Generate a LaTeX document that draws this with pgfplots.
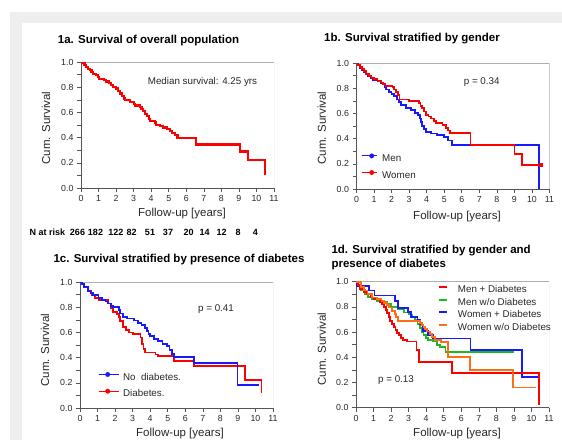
\documentclass[border=0pt]{standalone}
\usepackage{fontspec}
\setmainfont{Liberation Sans}
\usepackage{pgfplots}
\pgfplotsset{compat=1.18}
\definecolor{kmred}{RGB}{255,0,0}
\definecolor{kmblue}{RGB}{25,25,255}
\definecolor{kmgreen}{RGB}{30,185,30}
\definecolor{kmorange}{RGB}{255,110,20}
\definecolor{bandgray}{RGB}{238,238,238}
\definecolor{axdark}{RGB}{85,85,85}
\definecolor{axlight}{RGB}{175,175,175}
\definecolor{txt}{RGB}{40,40,40}
\newcommand{\ttl}{\fontsize{11.5}{13}\selectfont\bfseries}
\newcommand{\lbl}{\fontsize{11.5}{13}\selectfont}
\newcommand{\ann}{\fontsize{9.8}{11}\selectfont}
\pgfplotsset{
 km/.style={
  scale only axis, width=193pt, height=126pt,
  xmin=0, xmax=11, ymin=0, ymax=1,
  xtick={0,1,...,11}, ytick={0,0.2,0.4,0.6,0.8,1.0},
  minor ytick={0.1,0.3,0.5,0.7,0.9},
  axis x line*=bottom, axis y line*=left,
  axis line style={axdark, line width=0.6pt},
  tick align=outside, major tick length=4pt, minor tick length=4pt,
  tick style={axdark, line width=0.6pt},
  /pgf/number format/assume math mode=true,
  tick label style={font=\fontsize{8.8}{10}\selectfont, text=txt},
  yticklabel style={/pgf/number format/.cd, fixed, fixed zerofill, precision=1, assume math mode=true},
  legend cell align=left,
 },
}
\begin{document}
\begin{tikzpicture}[x=1pt,y=1pt]
\useasboundingbox (0,0) rectangle (562,440);
\fill[white] (0,0) rectangle (562,440);
\fill[bandgray] (10,0) rectangle (22,428);
\fill[bandgray] (10,417) rectangle (562,428);

% ---------- 1a ----------
\begin{axis}[km, at={(81pt,252pt)}, anchor=south west]
\draw[axlight, line width=0.6pt] (rel axis cs:0,1) -- (rel axis cs:1,1) -- (rel axis cs:1,0);
\addplot[const plot, kmred, line width=2.1pt] coordinates {
(0,1)(0.1,0.99)(0.2,0.975)(0.3,0.96)(0.4,0.948)(0.5,0.935)(0.6,0.92)(0.7,0.905)(0.85,0.895)(0.95,0.88)(1.05,0.868)(1.3,0.858)(1.45,0.845)(1.6,0.83)(1.7,0.815)(1.8,0.80)(2.0,0.79)(2.1,0.77)(2.2,0.75)(2.35,0.73)(2.45,0.71)(2.5,0.695)(2.8,0.685)(3.0,0.665)(3.1,0.655)(3.35,0.645)(3.45,0.63)(3.55,0.61)(3.65,0.59)(3.75,0.57)(3.85,0.55)(3.95,0.53)(4.2,0.52)(4.3,0.50)(4.5,0.49)(4.65,0.48)(4.9,0.47)(5.05,0.455)(5.2,0.44)(5.35,0.42)(5.5,0.40)(6.55,0.345)(9.05,0.29)(9.5,0.22)(10.5,0.10)};
\end{axis}

% ---------- 1b ----------
\begin{axis}[km, at={(356.5pt,251pt)}, anchor=south west,
  legend style={at={(axis description cs:0.008,0.322)}, anchor=north west, draw=none, fill=none,
    font=\ann, text=txt, row sep=0pt, column sep=0pt,
    nodes={inner xsep=5pt, inner ysep=3.7pt, text height=7.2pt, text depth=2pt}},
  legend image code/.code={\draw[#1, line width=0.9pt] (0pt,3pt) -- (15pt,3pt); \fill[#1] (10pt,3pt) circle (2.2pt);}]
\draw[axlight, line width=0.6pt] (rel axis cs:0,1) -- (rel axis cs:1,1) -- (rel axis cs:1,0);
\addplot[const plot, kmblue, line width=1.8pt, forget plot] coordinates {
(0,1)(0.1,0.98)(0.2,0.96)(0.3,0.94)(0.4,0.925)(0.55,0.91)(0.65,0.895)(0.8,0.88)(0.95,0.868)(1.2,0.855)(1.4,0.84)(1.5,0.83)(1.6,0.81)(1.7,0.79)(1.85,0.77)(2.0,0.755)(2.15,0.735)(2.3,0.71)(2.4,0.69)(2.55,0.665)(2.8,0.645)(3.1,0.625)(3.35,0.605)(3.5,0.585)(3.6,0.56)(3.68,0.53)(3.75,0.50)(3.85,0.475)(3.95,0.455)(4.25,0.44)(4.6,0.43)(5.0,0.41)(5.2,0.385)(5.45,0.35)(10.4,0.0)};
\addplot[const plot, kmred, line width=1.8pt, forget plot] coordinates {
(0,1)(0.1,0.985)(0.2,0.97)(0.3,0.955)(0.45,0.935)(0.55,0.915)(0.7,0.895)(0.85,0.88)(1.0,0.87)(1.2,0.86)(1.4,0.845)(1.5,0.835)(1.65,0.82)(2.05,0.81)(2.15,0.79)(2.25,0.77)(2.35,0.745)(2.45,0.71)(3.0,0.70)(3.55,0.685)(3.65,0.66)(3.72,0.64)(3.85,0.615)(3.95,0.59)(4.1,0.575)(4.25,0.56)(4.4,0.54)(4.55,0.525)(4.9,0.505)(5.1,0.485)(5.2,0.465)(5.35,0.445)(6.5,0.35)(9.0,0.28)(9.42,0.19)(10.5,0.19)};
\addplot[only marks, mark=square*, mark size=1.4pt, kmred, forget plot] coordinates {(10.5,0.19)};
\addlegendimage{kmblue}
\addlegendentry{Men}
\addlegendimage{kmred}
\addlegendentry{Women}
\end{axis}

% ---------- 1c ----------
\begin{axis}[km, at={(80pt,32pt)}, anchor=south west,
  legend style={at={(axis description cs:0.078,0.326)}, anchor=north west, draw=none, fill=none,
    font=\ann, text=txt, row sep=0pt, column sep=0pt,
    nodes={inner xsep=4pt, inner ysep=3.75pt, text height=7.2pt, text depth=2pt}},
  legend image code/.code={\draw[#1, line width=0.9pt] (0pt,3pt) -- (20pt,3pt); \fill[#1] (9pt,3pt) circle (2.2pt);}]
\draw[axlight, line width=0.6pt] (rel axis cs:0,1) -- (rel axis cs:1,1) -- (rel axis cs:1,0);
\addplot[const plot, kmred, line width=1.8pt, forget plot] coordinates {
(0,1)(0.1,0.985)(0.25,0.96)(0.45,0.93)(0.65,0.9)(0.85,0.875)(1.1,0.86)(1.6,0.83)(1.75,0.79)(1.9,0.76)(2.1,0.745)(2.2,0.72)(2.3,0.69)(2.45,0.645)(2.6,0.62)(2.8,0.60)(3.0,0.585)(3.45,0.56)(3.55,0.51)(3.62,0.47)(3.7,0.44)(4.3,0.425)(4.45,0.41)(5.35,0.375)(6.5,0.335)(9.42,0.22)(10.35,0.12)};
\addplot[const plot, kmblue, line width=1.8pt, forget plot] coordinates {
(0,1)(0.1,0.985)(0.25,0.96)(0.45,0.93)(0.6,0.91)(0.75,0.895)(1.05,0.875)(1.25,0.86)(1.45,0.845)(1.6,0.83)(1.75,0.81)(1.9,0.80)(2.2,0.78)(2.3,0.75)(2.45,0.725)(2.7,0.71)(3.1,0.695)(3.3,0.675)(3.5,0.66)(3.7,0.635)(3.8,0.61)(3.9,0.59)(4.0,0.57)(4.2,0.55)(4.45,0.53)(4.7,0.51)(4.95,0.49)(5.1,0.46)(5.25,0.43)(5.35,0.405)(6.5,0.36)(8.98,0.185)(10.2,0.185)};
\addlegendimage{kmblue}
\addlegendentry{No\ \ diabetes.}
\addlegendimage{kmred}
\addlegendentry{Diabetes.}
\end{axis}

% ---------- 1d ----------
\begin{axis}[km, at={(356pt,32.3pt)}, anchor=south west,
  legend style={at={(axis description cs:0.409,1.0)}, anchor=north west, draw=none, fill=none,
    font=\ann, text=txt, row sep=0pt, column sep=0pt,
    nodes={inner xsep=10pt, inner ysep=1.65pt, text height=7.2pt, text depth=2pt}},
  legend image code/.code={\draw[#1, line width=1.8pt] (0pt,3pt) -- (8pt,3pt);}]
\draw[axlight, line width=0.6pt] (rel axis cs:0,1) -- (rel axis cs:1,1) -- (rel axis cs:1,0);
\addplot[const plot, kmgreen, line width=1.8pt, forget plot] coordinates {
(0,1)(0.1,0.97)(0.3,0.935)(0.5,0.905)(0.7,0.88)(0.88,0.865)(1.2,0.85)(1.6,0.84)(1.8,0.825)(2.0,0.80)(2.4,0.78)(2.75,0.755)(3.0,0.74)(3.2,0.72)(3.36,0.695)(3.5,0.665)(3.64,0.63)(3.75,0.60)(3.85,0.575)(4.0,0.555)(4.1,0.54)(4.4,0.525)(4.6,0.50)(4.8,0.48)(5.1,0.44)(9.0,0.44)};
\addplot[const plot, kmblue, line width=1.8pt, forget plot] coordinates {
(0,1)(0.05,0.965)(0.72,0.93)(1.05,0.89)(2.22,0.85)(2.41,0.79)(2.98,0.76)(3.15,0.72)(3.5,0.70)(3.64,0.66)(3.83,0.61)(4.1,0.58)(4.39,0.55)(6.53,0.46)(9.44,0.245)(10.43,0.245)};
\addplot[const plot, kmred, line width=1.8pt, forget plot] coordinates {
(0,1)(0.1,0.975)(0.25,0.945)(0.45,0.92)(0.63,0.90)(0.85,0.875)(1.0,0.86)(1.39,0.84)(1.5,0.82)(1.6,0.80)(1.7,0.775)(1.78,0.75)(1.88,0.72)(1.96,0.69)(2.05,0.665)(2.15,0.64)(2.25,0.615)(2.35,0.595)(2.45,0.575)(2.55,0.555)(2.7,0.535)(2.9,0.525)(3.45,0.46)(3.58,0.36)(5.45,0.275)(10.42,0.02)};
\addplot[const plot, kmorange, line width=1.8pt, forget plot] coordinates {
(0,1)(0.3,0.96)(0.45,0.93)(0.65,0.90)(0.9,0.875)(1.2,0.86)(1.45,0.845)(1.6,0.83)(1.75,0.815)(1.9,0.795)(2.05,0.77)(2.2,0.745)(2.3,0.72)(2.41,0.69)(3.64,0.67)(3.74,0.655)(3.85,0.64)(3.95,0.625)(4.05,0.605)(4.2,0.585)(4.35,0.56)(4.5,0.54)(4.85,0.52)(5.26,0.40)(6.5,0.30)(8.97,0.16)(10.26,0.16)};
\addlegendimage{kmred}
\addlegendentry{Men + Diabetes}
\addlegendimage{kmgreen}
\addlegendentry{Men w/o Diabetes}
\addlegendimage{kmblue}
\addlegendentry{Women + Diabetes}
\addlegendimage{kmorange}
\addlegendentry{Women w/o Diabetes}
\end{axis}

% ---------- texts ----------
\node[font=\ttl] at (148.5,399.3) {1a. Survival of overall population};
\node[font=\ttl] at (412,401) {1b. Survival stratified by gender};
\node[font=\ttl, anchor=west] at (50,180) {1c. Survival stratified by presence of diabetes};
\node[font=\ttl, anchor=west] at (328,189) {1d. Survival stratified by gender and};
\node[font=\ttl, anchor=west] at (328,175) {presence of diabetes};

\node[font=\lbl, rotate=90, text=txt] at (46,312) {Cum. Survival};
\node[font=\lbl, rotate=90, text=txt] at (321.7,312) {Cum. Survival};
\node[font=\lbl, rotate=90, text=txt] at (45,90) {Cum. Survival};
\node[font=\lbl, rotate=90, text=txt] at (321.7,91) {Cum. Survival};

\node[font=\lbl, text=txt] at (182,226) {Follow-up [years]};
\node[font=\lbl, text=txt] at (457,223) {Follow-up [years]};
\node[font=\lbl, text=txt] at (180,6) {Follow-up [years]};
\node[font=\lbl, text=txt] at (457,6) {Follow-up [years]};

\node[font=\ann, text=txt] at (202.5,358.3) {Median survival: 4.25 yrs};
\node[font=\ann, text=txt] at (481.7,357.7) {p = 0.34};
\node[font=\ann, text=txt] at (216,131) {p = 0.41};
\node[font=\ann, text=txt] at (396,60) {p = 0.13};

\begin{scope}[every node/.style={font=\fontsize{9}{10}\selectfont\bfseries}]
\node at (47.3,207.3) {N at risk};
\node at (77.5,207.3) {266};
\node at (95.5,207.3) {182};
\node at (115.8,207.3) {122};
\node at (131.7,207.3) {82};
\node at (150,207.3) {51};
\node at (168,207.3) {37};
\node at (188.7,207.3) {20};
\node at (204.7,207.3) {14};
\node at (221.7,207.3) {12};
\node at (238,207.3) {8};
\node at (255.3,207.3) {4};
\end{scope}
\end{tikzpicture}
\end{document}
